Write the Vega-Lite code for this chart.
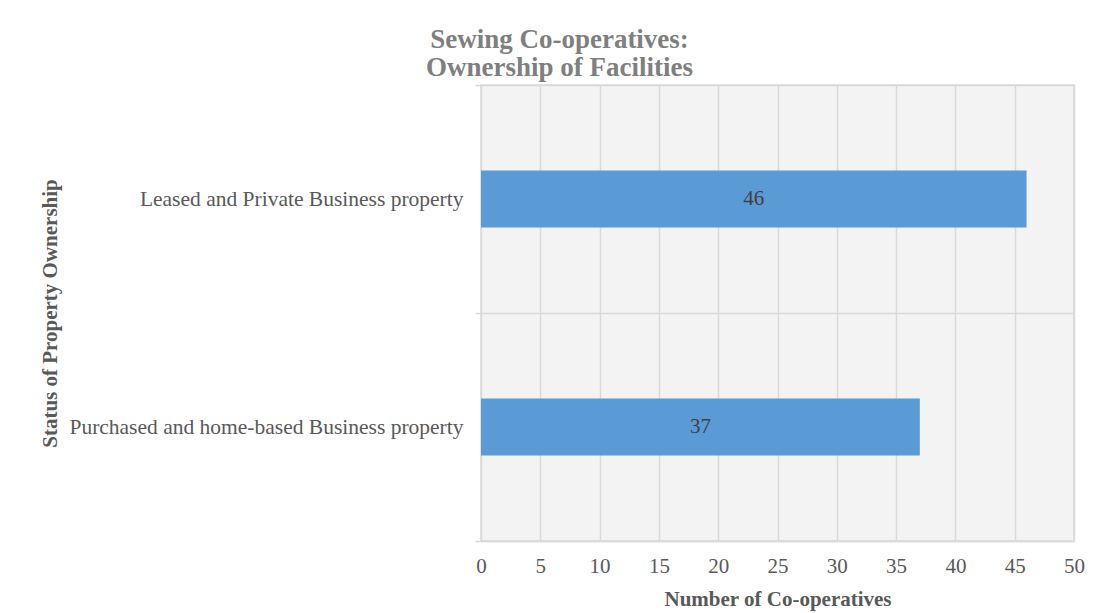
{
  "$schema": "https://vega.github.io/schema/vega-lite/v6.json",
  "autosize": {"type": "none"},
  "width": 593,
  "height": 456,
  "padding": {"left": 481, "top": 85, "right": 30, "bottom": 72},
  "background": "white",
  "title": {
    "text": ["Sewing Co-operatives:", "Ownership of Facilities"],
    "font": "Liberation Serif",
    "fontSize": 27,
    "fontWeight": "bold",
    "color": "#7f7f7f",
    "anchor": "middle",
    "dx": -218,
    "offset": -8,
    "lineHeight": 28
  },
  "config": {
    "view": {"fill": "#f3f3f3", "stroke": "#d9d9d9", "strokeWidth": 1.5},
    "font": "Liberation Serif"
  },
  "data": {
    "values": [
      {"status": "Leased and Private Business property", "count": 46},
      {"status": "Purchased and home-based Business property", "count": 37}
    ]
  },
  "transform": [{"calculate": "datum.count / 2", "as": "mid"}],
  "encoding": {
    "y": {
      "field": "status",
      "type": "nominal",
      "sort": null,
      "scale": {"paddingInner": 0, "paddingOuter": 0},
      "axis": {
        "title": "Status of Property Ownership",
        "titleFont": "Liberation Serif",
        "titleFontSize": 21,
        "titleFontWeight": "bold",
        "titleColor": "#595959",
        "titleX": -431,
        "titleY": 228,
        "titleAngle": 270,
        "titleAlign": "center",
        "titleBaseline": "middle",
        "labelFont": "Liberation Serif",
        "labelFontSize": 21.5,
        "labelColor": "#595959",
        "labelPadding": 12,
        "labelLimit": 0,
        "tickBand": "extent",
        "ticks": true,
        "tickColor": "#d9d9d9",
        "tickWidth": 1.5,
        "tickSize": 6,
        "grid": true,
        "gridColor": "#d9d9d9",
        "gridWidth": 1.5,
        "domain": false
      }
    }
  },
  "layer": [
    {
      "mark": {"type": "bar", "color": "#5B9BD5", "height": {"band": 0.25}},
      "encoding": {
        "x": {
          "field": "count",
          "type": "quantitative",
          "scale": {"domain": [0, 50], "nice": false},
          "axis": {
            "title": "Number of Co-operatives",
            "titleFont": "Liberation Serif",
            "titleFontSize": 21,
            "titleFontWeight": "bold",
            "titleColor": "#595959",
            "titlePadding": 12,
            "labelFont": "Liberation Serif",
            "labelFontSize": 21,
            "labelColor": "#595959",
            "labelPadding": 14,
            "labelFlush": false,
            "values": [0, 5, 10, 15, 20, 25, 30, 35, 40, 45, 50],
            "ticks": false,
            "grid": true,
            "gridColor": "#d9d9d9",
            "gridWidth": 1.5,
            "domain": true,
            "domainColor": "#d9d9d9",
            "domainWidth": 1.5
          }
        }
      }
    },
    {
      "mark": {"type": "text", "color": "#404040", "fontSize": 21, "font": "Liberation Serif", "baseline": "middle", "align": "center"},
      "encoding": {
        "x": {"field": "mid", "type": "quantitative"},
        "text": {"field": "count", "type": "quantitative"}
      }
    }
  ]
}
